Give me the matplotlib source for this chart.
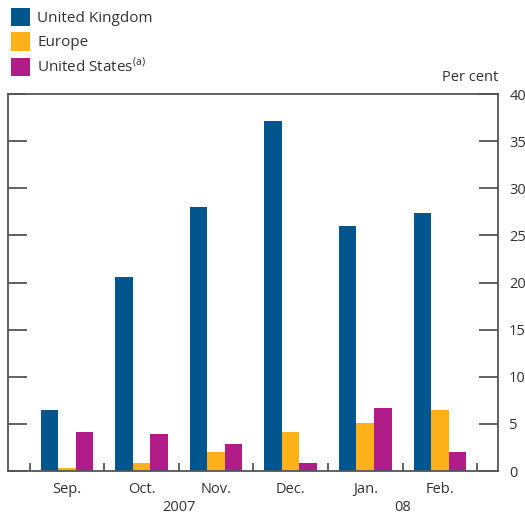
import matplotlib.pyplot as plt
import numpy as np

plt.rcParams['font.family'] = ['Open Sans', 'DejaVu Sans']

months = ['Sep.', 'Oct.', 'Nov.', 'Dec.', 'Jan.', 'Feb.']
uk = [6.5, 20.6, 28.0, 37.1, 26.0, 27.4]
europe = [0.3, 0.9, 2.0, 4.1, 5.1, 6.5]
us = [4.1, 3.9, 2.9, 0.9, 6.7, 2.0]
years = ['2007', '08']

c_uk = '#00558C'
c_eu = '#FDB21A'
c_us = '#B01C88'
grey = '#333333'

fig = plt.figure(figsize=(5.25, 5.16), dpi=100)
ax = fig.add_axes([0.0152, 0.0872, 0.9334, 0.7306])

x = np.arange(len(months))
w = 0.235
b1 = ax.bar(x - w, uk, w, color=c_uk, label='United Kingdom')
b2 = ax.bar(x, europe, w, color=c_eu, label='Europe')
b3 = ax.bar(x + w, us, w, color=c_us, label='United States$^{\\mathregular{(a)}}$')

ax.set_xlim(-0.79, 5.78)
ax.set_ylim(0, 40)
ax.set_yticks(np.arange(0, 41, 5))
ax.tick_params(axis='y', direction='in', length=14, width=1.3, color='#555555',
               left=True, right=True, labelleft=False, labelright=True,
               labelsize=10.5, labelcolor=grey, pad=8)
ax.set_xticks(x)
ax.set_xticklabels(months)
ax.set_xticks(np.arange(-0.5, 6, 1), minor=True)
ax.tick_params(axis='x', which='major', length=0, labelsize=10.5, labelcolor=grey, pad=8)
ax.tick_params(axis='x', which='minor', direction='in', length=6, width=1.3, color='#555555')

for s in ax.spines.values():
    s.set_color('#555555')
    s.set_linewidth(1.3)

ax.text(1.5, -0.098, years[0], transform=ax.get_xaxis_transform(), ha='center', va='center',
        fontsize=10.5, color=grey)
ax.text(4.5, -0.098, years[1], transform=ax.get_xaxis_transform(), ha='center', va='center',
        fontsize=10.5, color=grey)
ax.text(1.0, 1.025, 'Per cent', transform=ax.transAxes, ha='right', va='bottom',
        fontsize=10.5, color=grey)

fig.legend(handles=[b1, b2, b3], loc='upper left', bbox_to_anchor=(0.0, 1.005),
           frameon=False, fontsize=11, labelcolor=grey, handlelength=1.25,
           handleheight=1.45, handletextpad=0.5, labelspacing=0.4, borderaxespad=0.3)

fig.savefig('out.png', dpi=100)
